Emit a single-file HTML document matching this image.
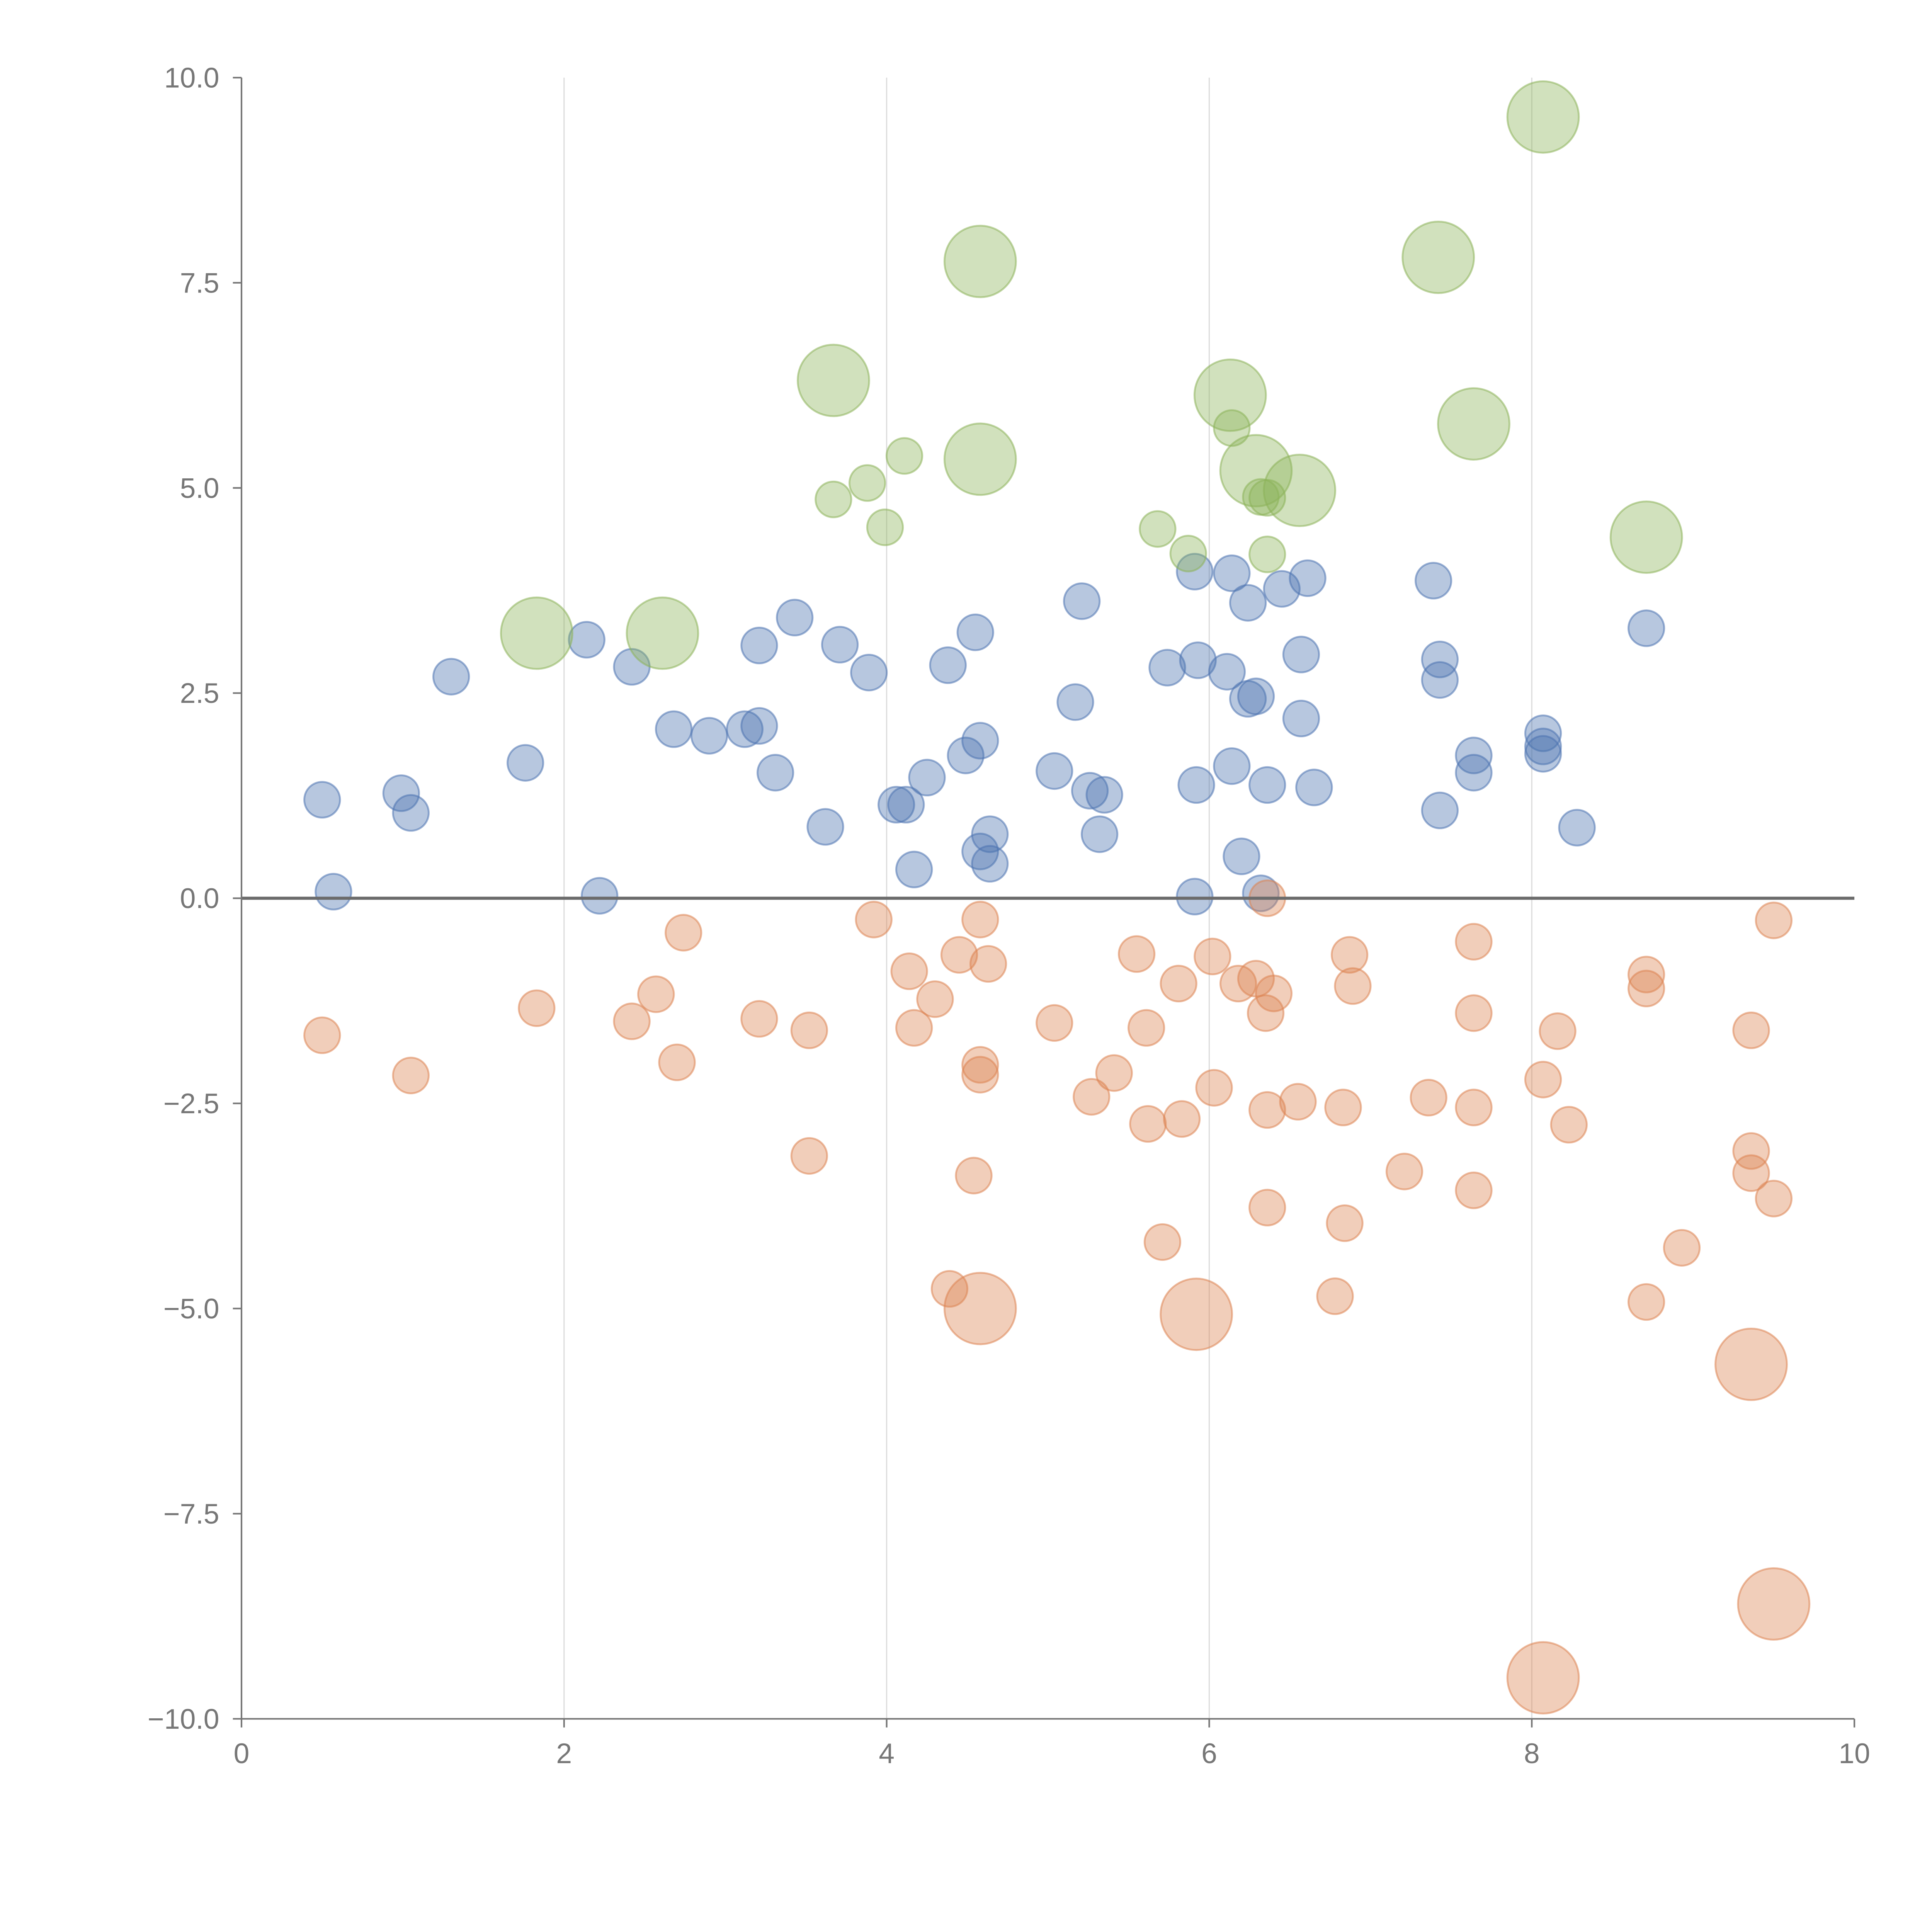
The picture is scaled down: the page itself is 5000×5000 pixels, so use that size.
<!DOCTYPE html>
<html><head><meta charset="utf-8">
<style>
html,body{margin:0;padding:0;background:#fff;}
svg{display:block;}
text{font-family:"Liberation Sans",sans-serif;}
</style></head>
<body>
<svg id="chart" width="5000" height="5000" viewBox="0 0 1568 1568" xmlns="http://www.w3.org/2000/svg">
<g id="grid"></g>
<g id="marks"></g>
<g id="axes"></g>
</svg>
<script>
const xTicks = [0, 2, 4, 6, 8, 10];
const yTicks = [10, 7.5, 5, 2.5, 0, -2.5, -5, -7.5, -10];
const yTickLabels = ["10.0", "7.5", "5.0", "2.5", "0.0", "\u22122.5", "\u22125.0", "\u22127.5", "\u221210.0"];

const blueX = [0.50,0.57,0.99,1.05,1.30,1.76,2.14,2.22,2.42,2.68,2.90,3.12,3.21,3.21,3.31,3.43,3.62,3.71,3.89,4.06,4.12,4.17,4.25,4.38,4.49,4.55,4.58,4.58,4.64,4.64,5.04,5.17,5.21,5.26,5.35,5.32,5.74,5.91,5.93,5.92,5.91,6.11,6.14,6.14,6.20,6.24,6.24,6.29,6.32,6.36,6.45,6.57,6.57,6.61,6.65,7.39,7.43,7.43,7.43,7.64,7.64,8.07,8.07,8.07,8.28,8.71];
const blueY = [1.20,0.08,1.28,1.04,2.70,1.65,3.15,0.03,2.82,2.06,1.98,2.06,3.08,2.10,1.53,3.42,0.87,3.09,2.75,1.14,1.14,0.35,1.47,2.84,1.74,3.24,1.92,0.57,0.78,0.42,1.55,2.39,3.62,1.31,1.26,0.78,2.81,3.98,2.90,1.38,0.02,2.76,3.96,1.61,0.51,3.60,2.43,2.46,0.06,1.38,3.77,2.97,2.19,3.90,1.35,3.87,2.91,2.66,1.07,1.74,1.53,2.01,1.85,1.76,0.86,3.29];

const orangeX = [0.50,1.05,1.83,2.42,2.57,2.70,2.74,3.21,3.52,3.52,3.92,4.14,4.17,4.30,4.39,4.45,4.54,4.58,4.58,4.58,4.63,5.04,5.27,5.41,5.55,5.61,5.62,5.71,5.81,5.83,6.02,6.03,6.18,6.29,6.35,6.36,6.36,6.36,6.40,6.55,6.78,6.83,6.84,6.87,6.89,7.21,7.36,7.64,7.64,7.64,7.64,8.07,8.16,8.23,8.71,8.71,8.71,8.93,9.36,9.36,9.36,9.50,9.50];
const orangeY = [-1.67,-2.16,-1.34,-1.50,-1.17,-2.00,-0.42,-1.47,-1.61,-3.14,-0.26,-0.89,-1.58,-1.23,-4.76,-0.69,-3.38,-0.26,-2.03,-2.15,-0.80,-1.52,-2.42,-2.13,-0.68,-1.58,-2.75,-4.19,-1.04,-2.69,-0.71,-2.31,-1.04,-0.98,-1.40,-2.58,-3.77,0.0,-1.16,-2.48,-4.85,-2.55,-3.96,-0.69,-1.07,-3.33,-2.43,-0.53,-1.40,-2.55,-3.56,-2.21,-1.62,-2.76,-0.93,-1.10,-4.92,-4.26,-1.61,-3.08,-3.35,-0.27,-3.66];

const orangeBigX = [4.58,5.92,9.36,9.50,8.07];
const orangeBigY = [-5.00,-5.07,-5.68,-8.60,-9.50];

const greenX = [3.67,3.88,3.99,4.11,5.68,5.87,6.14,6.32,6.36,6.36];
const greenY = [4.86,5.06,4.52,5.39,4.50,4.20,5.73,4.89,4.88,4.19];

const greenBigX = [1.83,2.61,3.67,4.58,4.58,6.13,6.29,6.56,7.42,7.64,8.71,8.07];
const greenBigY = [3.23,3.23,6.31,7.76,5.35,6.13,5.21,4.97,7.81,5.78,4.40,9.52];

const NS = "http://www.w3.org/2000/svg";
const X0 = 196, X1 = 1505, Y0 = 1395, Y1 = 63;
function sx(v){ return X0 + (v - 0) / 10 * (X1 - X0); }
function sy(v){ return Y0 - (v + 10) / 20 * (Y0 - Y1); }
function mk(tag, attrs, parent){
  const e = document.createElementNS(NS, tag);
  for (const k in attrs) e.setAttribute(k, attrs[k]);
  parent.appendChild(e);
  return e;
}
const grid = document.getElementById('grid');
const marks = document.getElementById('marks');
const axes = document.getElementById('axes');

xTicks.forEach(t => {
  if (t === 0 || t === 10) return;
  const l = mk('line', {x1: sx(t), x2: sx(t), y1: Y1, y2: Y0, stroke: '#dddddd', 'stroke-width': 1}, grid);
  
  
});

function drawSeries(xs, ys, r, fill, stroke, name){
  xs.forEach((x, i) => {
    const c = mk('circle', {cx: sx(x), cy: sy(ys[i]), r: r, fill: fill, 'fill-opacity': 0.4, stroke: stroke, 'stroke-opacity': 0.55, 'stroke-width': 1.5}, marks);
    
    
  });
}
drawSeries(blueX, blueY, 14.5, '#4c72b0', '#4c72b0', 'blue-bubble');
drawSeries(orangeX, orangeY, 14.5, '#dd8452', '#dd8452', 'orange-bubble');
drawSeries(orangeBigX, orangeBigY, 29, '#dd8452', '#dd8452', 'orange-large-bubble');
drawSeries(greenX, greenY, 14.5, '#8cb35a', '#8cb35a', 'green-bubble');
drawSeries(greenBigX, greenBigY, 29, '#8cb35a', '#8cb35a', 'green-large-bubble');

const zl = mk('line', {x1: X0, x2: X1, y1: sy(0), y2: sy(0), stroke: '#6b6b6b', 'stroke-width': 2.5}, axes);



const ya = mk('line', {x1: X0, x2: X0, y1: Y1, y2: Y0, stroke: '#777', 'stroke-width': 1.3}, axes);


const xa = mk('line', {x1: X0, x2: X1, y1: Y0, y2: Y0, stroke: '#777', 'stroke-width': 1.3}, axes);



xTicks.forEach(t => {
  const tk = mk('line', {x1: sx(t), x2: sx(t), y1: Y0, y2: Y0 + 7, stroke: '#777', 'stroke-width': 1.3}, axes);
  
  
  const tx = mk('text', {x: sx(t), y: Y0 + 36, 'text-anchor': 'middle', 'font-size': 23, fill: '#777'}, axes);
  tx.textContent = String(t);
  
  
});
yTicks.forEach((t, i) => {
  const tk = mk('line', {x1: X0 - 7, x2: X0, y1: sy(t), y2: sy(t), stroke: '#777', 'stroke-width': 1.3}, axes);
  
  
  const tx = mk('text', {x: X0 - 18, y: sy(t) + 8, 'text-anchor': 'end', 'font-size': 23, fill: '#777'}, axes);
  tx.textContent = yTickLabels[i];
  
  
});
</script>
</body></html>
